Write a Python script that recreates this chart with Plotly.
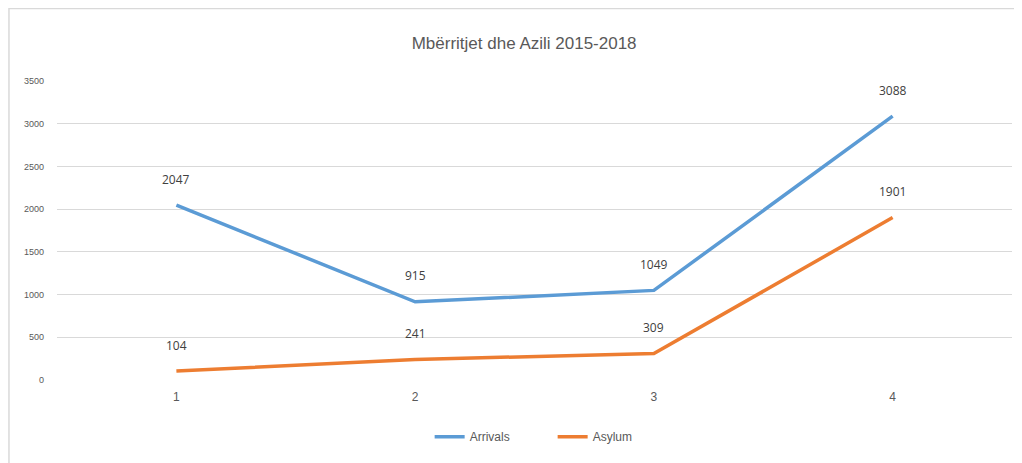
import plotly.graph_objects as go

categories = [1, 2, 3, 4]
arrivals = [2047, 915, 1049, 3088]
asylum = [104, 241, 309, 1901]
y_ticks = [0, 500, 1000, 1500, 2000, 2500, 3000, 3500]
title = "Mbërritjet dhe Azili 2015-2018"

BLUE = "#5B9BD5"
ORANGE = "#ED7D31"
FONT = "Liberation Sans Narrow, Liberation Sans, sans-serif"

fig = go.Figure()
fig.add_trace(go.Scatter(x=categories, y=arrivals, name="Arrivals", mode="lines",
                         line=dict(color=BLUE, width=3.5)))
fig.add_trace(go.Scatter(x=categories, y=asylum, name="Asylum", mode="lines",
                         line=dict(color=ORANGE, width=3.5)))

annotations = []
for series in (arrivals, asylum):
    for c, v in zip(categories, series):
        annotations.append(dict(x=c, y=v, text=str(v), showarrow=False, yshift=26,
                                font=dict(family="Open Sans, sans-serif", size=12, color="#404040")))

# page body has an 8px margin; figure is sized/offset to compensate
fig.update_layout(
    width=1014, height=455,
    margin=dict(l=49, r=10, t=73, b=83),
    paper_bgcolor="white", plot_bgcolor="white",
    title=dict(text=title, x=0.509, xanchor="center", y=0.924, yanchor="middle",
               font=dict(family=FONT, size=17, color="#595959")),
    font=dict(family=FONT, color="#595959"),
    showlegend=True,
    legend=dict(orientation="h", x=0.519, xanchor="center", y=-0.19, yanchor="middle",
                entrywidth=78, entrywidthmode="pixels",
                font=dict(family=FONT, size=12, color="#595959")),
    annotations=annotations,
    shapes=[dict(type="rect", xref="paper", yref="paper", x0=-0.0503, x1=1.05,
                 y0=-0.5, y1=1.2425, line=dict(color="#D9D9D9", width=1.5))],
)
fig.update_xaxes(range=[0.5, 4.5], tickvals=categories, showgrid=False, zeroline=False,
                 showline=False, ticks="", fixedrange=True, ticklabelstandoff=8,
                 tickfont=dict(family=FONT, size=12, color="#595959"))
fig.update_yaxes(range=[0, 3500], tickvals=y_ticks, showgrid=True, gridcolor="#D9D9D9",
                 gridwidth=1, zeroline=False, showline=False, ticks="",
                 ticklabelstandoff=12,
                 tickfont=dict(family=FONT, size=9, color="#595959"))

fig.write_html("out.html")
